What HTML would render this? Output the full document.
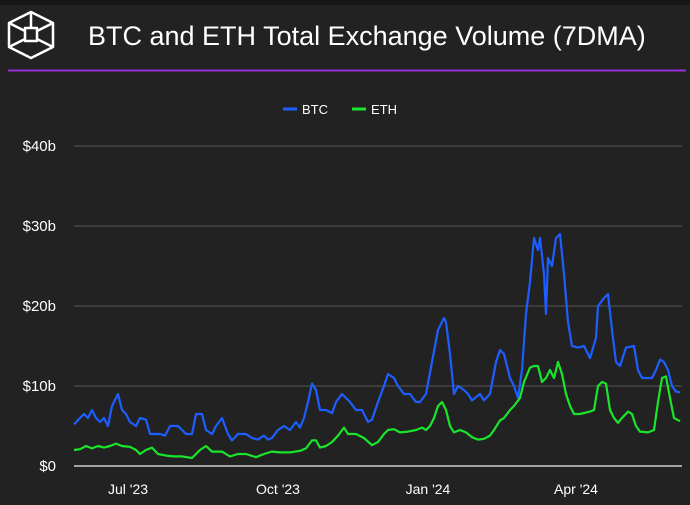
<!DOCTYPE html>
<html><head><meta charset="utf-8"><style>
body{margin:0;width:690px;height:500px;background:#222222;overflow:hidden;font-family:"Liberation Sans",sans-serif;}
</style></head><body>
<svg width="690" height="500" viewBox="0 0 690 500" xmlns="http://www.w3.org/2000/svg">
<rect x="0" y="0" width="690" height="500" fill="#222222"/>
<rect x="0" y="0" width="690" height="5" fill="#161616"/>
<g fill="none" stroke="#fff" stroke-width="2.5" stroke-linejoin="round">
<polygon points="31,12 53,23 53,47 31,58 9,47 9,23"/>
<polyline points="9,23 25,31"/>
<polyline points="53,23 37,31"/>
<polyline points="9,47 25,39"/>
<polyline points="53,47 37,39"/>
<polyline points="31,12 31,28"/>
<rect x="25" y="28" width="12" height="13"/>
</g>
<text x="88" y="45" fill="#fff" font-size="27">BTC and ETH Total Exchange Volume (7DMA)</text>
<line x1="8" y1="70.5" x2="686" y2="70.5" stroke="#9a2fd6" stroke-width="2"/>
<line x1="283" y1="109" x2="297" y2="109" stroke="#1e5eff" stroke-width="3"/>
<text x="302" y="114" fill="#fff" font-size="13">BTC</text>
<line x1="352" y1="109" x2="366" y2="109" stroke="#19e62a" stroke-width="3"/>
<text x="371" y="114" fill="#fff" font-size="13">ETH</text>
<g stroke="#555" stroke-width="1">
<line x1="74" y1="146" x2="682" y2="146"/>
<line x1="74" y1="226" x2="682" y2="226"/>
<line x1="74" y1="306" x2="682" y2="306"/>
<line x1="74" y1="386" x2="682" y2="386"/>
</g>
<line x1="74" y1="466" x2="682" y2="466" stroke="#ccc" stroke-width="1.5"/>
<g fill="#fff" font-size="15" text-anchor="end">
<text x="56" y="151">$40b</text>
<text x="56" y="231">$30b</text>
<text x="56" y="311">$20b</text>
<text x="56" y="391">$10b</text>
<text x="56" y="471">$0</text>
</g>
<g fill="#fff" font-size="14" text-anchor="middle">
<text x="128" y="494">Jul '23</text>
<text x="278" y="494">Oct '23</text>
<text x="428" y="494">Jan '24</text>
<text x="576" y="494">Apr '24</text>
</g>
<polyline fill="none" stroke="#1e5eff" stroke-width="2.2" stroke-linejoin="round" points="74,424.4 80,418 84,414 88,418 92,410 96,418 100,422 104,418 108,426 112,406 116,398 118,394 122,410 126,414 130,422 136,426 140,418 146,419.6 150,434 160,434 165,435.6 170,426 178,426 186,434 192,434 196,414 202,414 206,430 212,434 216,426 222,418 228,434 232,440.4 238,434 246,434 252,438 258,439.6 264,435.6 268,439.6 272,438 278,430 284,426 290,430 296,422 300,427.6 304,418 308,402 312,383.6 316,390 320,410 326,410 332,413.2 336,402 342,394 350,402 356,410 362,410 368,422 372,419.6 378,402 384,386 388,374 394,378 398,386 404,394 410,394 416,402 420,402 426,394 432,362 438,330 444,318 446,322 450,354 454,394 458,386 464,390 468,394 472,400.4 480,394 484,400.4 490,394 496,362 500,350 504,354 510,378 514,386 518,398 522,370 526,314 530,282 534,238 538,250 540,238 544,274 546,314 548,258 552,266 556,238 560,234 564,274 568,322 572,346 578,347.6 584,346 590,358 596,338 598,306 604,298 608,294 612,330 616,362 620,366 626,347.6 634,346 638,370 642,378 648,378 652,378 656,370 660,359.6 664,362 668,370 672,386 676,391.6 680,392.4"/>
<polyline fill="none" stroke="#19e62a" stroke-width="2.2" stroke-linejoin="round" points="74,450 80,449.2 86,446 92,448.4 98,446 104,447.6 110,446 116,443.6 122,446 130,446.8 136,450 140,454 146,450 152,447.6 158,454 166,455.6 174,456.4 182,456.4 192,458 196,454 200,450 206,446 212,451.6 222,451.6 230,456.4 238,454 246,454 256,457.2 264,454 272,451.6 280,452.4 290,452.4 300,450.8 306,448.4 312,440.4 316,440.4 320,447.6 326,446 332,442 338,435.6 344,427.6 348,434 356,434 364,438 372,445.2 378,442 384,434 388,430 394,429.2 400,432.4 408,431.6 416,430 422,427.6 426,430 430,426 434,418 438,406 442,402 446,410 450,426 454,432.4 460,430 466,432.4 472,437.2 478,439.6 484,438.8 490,435.6 494,430 500,420.4 504,418 510,410 514,406 520,398 524,382 530,367.6 534,366 538,366 542,382 546,378 550,370 554,378 558,362 562,374 566,394 570,406 574,414 580,414 590,411.6 594,410 598,386 602,382 606,383.6 610,410 614,418 618,422.8 622,418 628,411.6 632,414 636,426 640,431.6 648,432.4 654,430 658,402 662,378 666,376.4 670,398 674,418 680,421.2"/>
</svg>
</body></html>
